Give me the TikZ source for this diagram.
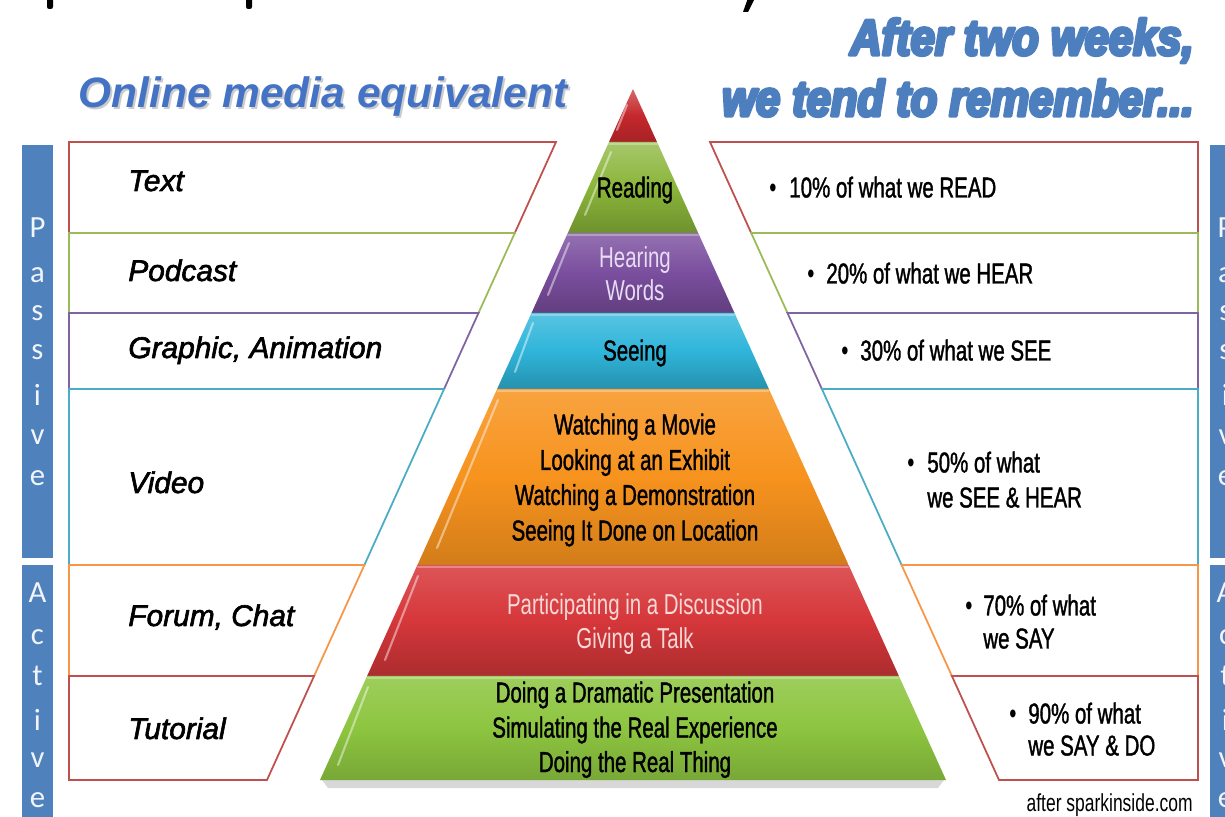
\documentclass[tikz,border=0pt]{standalone}
\usepackage{fontspec}
\setmainfont{Liberation Sans}
\newfontfamily\narrow[FakeStretch=0.71]{Liberation Sans}
\newfontfamily\heavy[FakeStretch=0.86]{Liberation Sans}
\newfontfamily\calfont{Carlito}
\newcommand\strokedtext[2]{\special{pdf:literal direct #1 w 1 j 2 Tr}#2\special{pdf:literal direct 0 Tr}}
\definecolor{headblue}{HTML}{4472C4}
\definecolor{headblueb}{HTML}{4D7FBE}
\definecolor{barblue}{HTML}{4F81BD}
\definecolor{bred}{HTML}{C0504D}
\definecolor{bgreen}{HTML}{9BBB59}
\definecolor{bpurple}{HTML}{8064A2}
\definecolor{bcyan}{HTML}{4BACC6}
\definecolor{borange}{HTML}{F79646}
\definecolor{ptip}{HTML}{C4282C}
\definecolor{pgreenA}{HTML}{8AB53A}
\definecolor{ppurple}{HTML}{7A4E9E}
\definecolor{pcyan}{HTML}{2FB5DA}
\definecolor{porange}{HTML}{F7931E}
\definecolor{pred}{HTML}{D6373A}
\definecolor{pgreenB}{HTML}{8DC540}
\definecolor{lavender}{HTML}{E8DCF4}
\definecolor{pinklight}{HTML}{F7D8D8}
\tikzset{
  rowbox/.style={line width=1pt, line join=miter},
  pyrtext/.style={font=\narrow\fontsize{16.4}{19}\selectfont, inner sep=0pt, anchor=base},
  bultext/.style={font=\narrow\fontsize{16.4}{19}\selectfont, inner sep=0pt, anchor=base west},
  leftlabel/.style={font=\fontsize{17}{20}\selectfont\itshape, inner sep=0pt, anchor=base west},
  barletter/.style={font=\calfont\fontsize{17.5}{20}\selectfont, text=white!92!barblue, inner sep=0pt},
  highlight/.style={white, opacity=0.45, line width=1.2pt, line cap=round},
  headline/.style={font=\heavy\fontsize{28.8}{34}\selectfont\bfseries\itshape, text=headblueb, inner sep=0pt, anchor=base east},
}
\begin{document}
\begin{tikzpicture}[x=0.02cm,y=-0.02cm]
\useasboundingbox (0,0) rectangle (1225,817);
\clip (0,0) rectangle (1225,817);
\fill[white] (0,0) rectangle (1225,817);

% fragments of a cut-off title at the top edge
\fill[black, rounded corners=1.2] (47,-4) rectangle (53,9);
\fill[black, rounded corners=1.2] (246,-4) rectangle (252,9);
\fill[black] (748,-2) -- (755,-2) -- (748,12) -- (743,12) -- cycle;

% headings
\node[font=\fontsize{24.2}{28}\selectfont\bfseries\itshape, text=black!40, opacity=0.5, inner sep=0pt, anchor=base west] at (80,110) {Online media equivalent};
\node (online) [font=\fontsize{24.2}{28}\selectfont\bfseries\itshape, text=headblue, inner sep=0pt, anchor=base west] at (78,108) {Online media equivalent};
\node (after1) [headline] at (1194,55) {\strokedtext{1.9}{After two weeks,}};
\node (after2) [headline] at (1194,116) {\strokedtext{1.9}{we tend to remember...}};

% side bars
\fill[barblue] (22,145) rectangle (53,558);
\fill[barblue] (22,565) rectangle (53,830);
\fill[barblue] (1210,145) rectangle (1245,558);
\fill[barblue] (1210,565) rectangle (1245,830);
\foreach \ch/\yy [count=\i] in {P/228,a/275,s/313,s/352,i/395,v/437,e/478}{
  \node (pl\i) [barletter] at (37.5,\yy) {\ch};
  \node (pr\i) [barletter] at (1225.5,\yy) {\ch};
}
\foreach \ch/\yy [count=\i] in {A/593,c/637,t/676,i/720,v/760,e/800}{
  \node (al\i) [barletter] at (37.5,\yy) {\ch};
  \node (ar\i) [barletter] at (1225.5,\yy) {\ch};
}

% left boxes
\draw[rowbox, bred]    (69,142) -- (556,142) -- (514.8,233) -- (69,233) -- cycle;
\draw[rowbox, bgreen]  (69,233) -- (514.8,233) -- (478.5,313) -- (69,313) -- cycle;
\draw[rowbox, bpurple] (69,313) -- (478.5,313) -- (444.1,389) -- (69,389) -- cycle;
\draw[rowbox, bcyan]   (69,389) -- (444.1,389) -- (364.4,565) -- (69,565) -- cycle;
\draw[rowbox, borange] (69,565) -- (364.4,565) -- (314.1,676) -- (69,676) -- cycle;
\draw[rowbox, bred]    (69,676) -- (314.1,676) -- (267,780) -- (69,780) -- cycle;

% right boxes
\draw[rowbox, bred]    (710,142) -- (1198,142) -- (1198,233) -- (751.2,233) -- cycle;
\draw[rowbox, bgreen]  (751.2,233) -- (1198,233) -- (1198,313) -- (787.5,313) -- cycle;
\draw[rowbox, bpurple] (787.5,313) -- (1198,313) -- (1198,389) -- (821.9,389) -- cycle;
\draw[rowbox, bcyan]   (821.9,389) -- (1198,389) -- (1198,565) -- (901.6,565) -- cycle;
\draw[rowbox, borange] (901.6,565) -- (1198,565) -- (1198,676) -- (951.9,676) -- cycle;
\draw[rowbox, bred]    (951.9,676) -- (1198,676) -- (1198,780) -- (999,780) -- cycle;

% left labels
\node (ltext)  [leftlabel] at (128,191) {\strokedtext{0.35}{Text}};
\node (lpod)   [leftlabel] at (128,281) {\strokedtext{0.35}{Podcast}};
\node (lgraph) [leftlabel] at (128,358) {\strokedtext{0.35}{Graphic, Animation}};
\node (lvideo) [leftlabel] at (128,493) {\strokedtext{0.35}{Video}};
\node (lforum) [leftlabel] at (128,626) {\strokedtext{0.35}{Forum, Chat}};
\node (ltut)   [leftlabel] at (128,739) {\strokedtext{0.35}{Tutorial}};

% pyramid shadow
\fill[black!25, opacity=0.6] (322,780) -- (944,780) -- (938,788) -- (328,788) -- cycle;

% pyramid layers
\shade[top color=ptip!70!white, bottom color=ptip!85!black, middle color=ptip] (633,89) -- (657,142) -- (609,142) -- cycle;
\shade[top color=pgreenA!75!white, bottom color=pgreenA!80!black, middle color=pgreenA] (609,142) -- (657,142) -- (698.2,233) -- (567.8,233) -- cycle;
\shade[top color=ppurple!80!white, bottom color=ppurple!80!black, middle color=ppurple] (567.8,233) -- (698.2,233) -- (734.5,313) -- (531.5,313) -- cycle;
\shade[top color=pcyan!80!white, bottom color=pcyan!80!black, middle color=pcyan] (531.5,313) -- (734.5,313) -- (768.9,389) -- (497.1,389) -- cycle;
\shade[top color=porange!85!white, bottom color=porange!85!black, middle color=porange] (497.1,389) -- (768.9,389) -- (848.6,565) -- (417.4,565) -- cycle;
\shade[top color=pred!85!white, bottom color=pred!80!black, middle color=pred] (417.4,565) -- (848.6,565) -- (898.9,676) -- (367.1,676) -- cycle;
\shade[top color=pgreenB!85!white, bottom color=pgreenB!85!black, middle color=pgreenB] (367.1,676) -- (898.9,676) -- (946,780) -- (320,780) -- cycle;

% bevel highlights
\draw[highlight] (627,105) -- (617,130);
\draw[highlight] (611,152) -- (585,215);
\draw[highlight] (569,243) -- (548,295);
\draw[highlight] (533,323) -- (515,372);
\draw[highlight] (498,400) -- (437,548);
\draw[highlight] (418,576) -- (385,660);
\draw[highlight] (368,687) -- (338,765);
\draw[highlight, opacity=0.3] (609,144) -- (657,144);
\draw[highlight, opacity=0.3] (568,235) -- (698,235);
\draw[highlight, opacity=0.3] (532,315) -- (734,315);
\draw[highlight, opacity=0.3] (498,391) -- (768,391);
\draw[highlight, opacity=0.3] (418,567) -- (848,567);
\draw[highlight, opacity=0.3] (368,678) -- (898,678);

% pyramid text
\node (read)  [pyrtext] at (635,197.5) {\strokedtext{0.2}{Reading}};
\node (hear1) [pyrtext, text=lavender] at (635,267.5) {Hearing};
\node (hear2) [pyrtext, text=lavender] at (635,300.5) {Words};
\node (see)   [pyrtext] at (635,360.5) {\strokedtext{0.2}{Seeing}};
\node (o1) [pyrtext] at (635,434.5) {\strokedtext{0.2}{Watching a Movie}};
\node (o2) [pyrtext] at (635,470) {\strokedtext{0.2}{Looking at an Exhibit}};
\node (o3) [pyrtext] at (635,505) {\strokedtext{0.2}{Watching a Demonstration}};
\node (o4) [pyrtext] at (635,540.5) {\strokedtext{0.2}{Seeing It Done on Location}};
\node (r1) [pyrtext, text=pinklight] at (635,614.5) {Participating in a Discussion};
\node (r2) [pyrtext, text=pinklight] at (635,648.5) {Giving a Talk};
\node (g1) [pyrtext] at (635,702.5) {\strokedtext{0.2}{Doing a Dramatic Presentation}};
\node (g2) [pyrtext] at (635,737.5) {\strokedtext{0.2}{Simulating the Real Experience}};
\node (g3) [pyrtext] at (635,772) {\strokedtext{0.2}{Doing the Real Thing}};

% right bullets
\node (b10) [bultext] at (769,197.5) {\textbullet};
\node (t10) [bultext] at (789,197.5) {\strokedtext{0.2}{10\% of what we READ}};
\node (b20) [bultext] at (807,283.5) {\textbullet};
\node (t20) [bultext] at (826,283.5) {\strokedtext{0.2}{20\% of what we HEAR}};
\node (b30) [bultext] at (841,360.5) {\textbullet};
\node (t30) [bultext] at (860,360.5) {\strokedtext{0.2}{30\% of what we SEE}};
\node (b50) [bultext] at (907,472.5) {\textbullet};
\node (t50a) [bultext] at (927,472.5) {\strokedtext{0.2}{50\% of what}};
\node (t50b) [bultext] at (927,507.5) {\strokedtext{0.2}{we SEE \& HEAR}};
\node (b70) [bultext] at (965,615.5) {\textbullet};
\node (t70a) [bultext] at (983,615.5) {\strokedtext{0.2}{70\% of what}};
\node (t70b) [bultext] at (983,648.5) {\strokedtext{0.2}{we SAY}};
\node (b90) [bultext] at (1009,723.5) {\textbullet};
\node (t90a) [bultext] at (1028,723.5) {\strokedtext{0.2}{90\% of what}};
\node (t90b) [bultext] at (1028,755.5) {\strokedtext{0.2}{we SAY \& DO}};

\node (credit) [font=\narrow\fontsize{14}{16}\selectfont, inner sep=0pt, anchor=base east] at (1193,811) {after sparkinside.com};
\end{tikzpicture}
\end{document}
